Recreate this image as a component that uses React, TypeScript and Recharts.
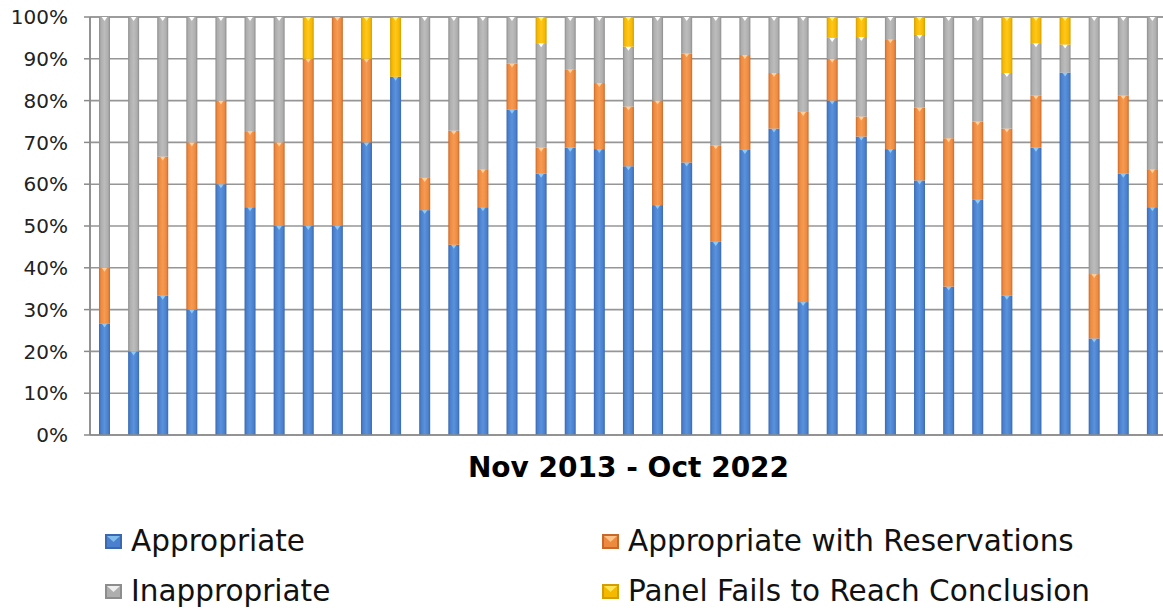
import { BarChart, Bar, XAxis, YAxis, CartesianGrid, Legend } from "recharts";

// share of panel outcomes per meeting, Nov 2013 - Oct 2022 (percent)
const appropriate = [
  26.7, 20, 33.3, 30, 60, 54.5, 50, 50, 50, 70, 85.7, 53.8, 45.5, 54.5, 77.8, 62.5, 68.75, 68.4, 64.3,
  55, 65.2, 46.2, 68.2, 73.3, 31.8, 80, 71.4, 68.4, 60.9, 35.5, 56.25, 33.3, 68.75, 86.7, 23.1, 62.5, 54.5,
];
const withReservations = [
  13.3, 0, 33.3, 40, 20, 18.2, 20, 40, 50, 20, 0, 7.7, 27.3, 9.1, 11.1, 6.25, 18.75, 15.8, 14.3,
  25, 26.1, 23.1, 22.7, 13.3, 45.5, 10, 4.8, 26.3, 17.4, 35.5, 18.75, 40, 12.5, 0, 15.4, 18.75, 9.1,
];
const inappropriate = [
  60, 80, 33.4, 30, 20, 27.3, 30, 0, 0, 0, 0, 38.5, 27.2, 36.4, 11.1, 25, 12.5, 15.8, 14.3,
  20, 8.7, 30.7, 9.1, 13.4, 22.7, 5, 19, 5.3, 17.4, 29, 25, 13.3, 12.5, 6.7, 61.5, 18.75, 36.4,
];
const panelFails = [
  0, 0, 0, 0, 0, 0, 0, 10, 0, 10, 14.3, 0, 0, 0, 0, 6.25, 0, 0, 7.1,
  0, 0, 0, 0, 0, 0, 5, 4.8, 0, 4.3, 0, 0, 13.4, 6.25, 6.6, 0, 0, 0,
];
const yTicks = [0, 10, 20, 30, 40, 50, 60, 70, 80, 90, 100];

const series = [
  { key: "appropriate", name: "Appropriate", dark: "#3a69b0", base: "#4a80cd", light: "#5a92dc", tip: "#8fcaf4" },
  { key: "withReservations", name: "Appropriate with Reservations", dark: "#c9682b", base: "#ee8a3f", light: "#f59b52", tip: "#ffd09a" },
  { key: "inappropriate", name: "Inappropriate", dark: "#8d8d8d", base: "#aeaeae", light: "#bcbcbc", tip: "#ffffff" },
  { key: "panelFails", name: "Panel Fails to Reach Conclusion", dark: "#d49e00", base: "#f5b900", light: "#ffc71c", tip: "#fff06a" },
];

const data = appropriate.map((v, i) => ({
  pos: i + 0.5,
  appropriate: v,
  withReservations: withReservations[i],
  inappropriate: inappropriate[i],
  panelFails: panelFails[i],
}));
const xTicks = Array.from({ length: appropriate.length + 1 }, (_, i) => i);

const FONT = "'DejaVu Sans', Verdana, sans-serif";

function bevelShape(s: (typeof series)[number]) {
  return (props: any) => {
    const { x, y, width, height } = props;
    if (!height || height <= 0) return <g />;
    const tipH = Math.min(4, height);
    return (
      <g>
        <rect x={x} y={y} width={width} height={height} fill={`url(#grad-${s.key})`} />
        <polygon
          points={`${x + width * 0.25},${y} ${x + width * 0.75},${y} ${x + width / 2},${y + tipH}`}
          fill={s.tip}
        />
      </g>
    );
  };
}

function LegendIcon({ s }: { s: (typeof series)[number] }) {
  return (
    <svg width={17} height={15} style={{ marginRight: 9, flex: "none" }}>
      <rect x={0} y={0} width={17} height={15} fill={s.dark} />
      <rect x={2} y={2} width={13} height={11} fill={s.base} />
      <polygon points="2,2 15,2 8.5,8" fill={s.tip} opacity={0.8} />
    </svg>
  );
}

function ChartLegend() {
  return (
    <div style={{ position: "relative", width: 1167, height: 100, fontFamily: FONT }}>
      {series.map((s, i) => (
        <div
          key={s.key}
          style={{
            position: "absolute",
            left: i % 2 === 0 ? 105 : 602,
            top: Math.floor(i / 2) * 50,
            height: 50,
            display: "flex",
            alignItems: "center",
            fontSize: 29.5,
            color: "#111",
            whiteSpace: "nowrap",
          }}
        >
          <LegendIcon s={s} />
          <span>{s.name}</span>
        </div>
      ))}
    </div>
  );
}

export default function App() {
  return (
    <div
      style={{
        position: "absolute",
        left: 0,
        top: 0,
        width: 1163,
        height: 612,
        overflow: "hidden",
        background: "#fff",
        fontFamily: FONT,
      }}
    >
      <BarChart width={1167} height={612} data={data} margin={{ top: 17, right: 0, left: 0, bottom: 17 }}>
        <defs>
          {series.map((s) => (
            <linearGradient key={s.key} id={`grad-${s.key}`} x1="0" y1="0" x2="1" y2="0">
              <stop offset="0%" stopColor={s.dark} />
              <stop offset="18%" stopColor={s.base} />
              <stop offset="50%" stopColor={s.light} />
              <stop offset="82%" stopColor={s.base} />
              <stop offset="100%" stopColor={s.dark} />
            </linearGradient>
          ))}
        </defs>
        <CartesianGrid stroke="#969696" strokeWidth={1.6} />
        <XAxis
          dataKey="pos"
          type="number"
          domain={[0, appropriate.length]}
          ticks={xTicks}
          tick={false}
          tickSize={9}
          height={60}
          stroke="#8a8a8a"
          strokeWidth={1.5}
          label={{
            value: "Nov 2013 - Oct 2022",
            position: "insideTop",
            offset: 22,
            style: { fontSize: 28, fontWeight: "bold", fill: "#000", fontFamily: FONT },
          }}
        />
        <YAxis
          domain={[0, 100]}
          ticks={yTicks}
          tickFormatter={(v) => `${v}%`}
          width={90}
          tickSize={6}
          tickMargin={16}
          stroke="#8a8a8a"
          strokeWidth={1.5}
          tick={{ fontSize: 20, fill: "#222", fontFamily: FONT }}
          interval={0}
        />
        <Legend
          verticalAlign="bottom"
          content={() => <ChartLegend />}
          wrapperStyle={{ position: "absolute", left: 0, top: 516, width: 1167, height: 100 }}
        />
        {series.map((s) => (
          <Bar
            key={s.key}
            dataKey={s.key}
            name={s.name}
            stackId="a"
            barSize={11}
            fill={s.base}
            shape={bevelShape(s)}
            isAnimationActive={false}
          />
        ))}
      </BarChart>
    </div>
  );
}
